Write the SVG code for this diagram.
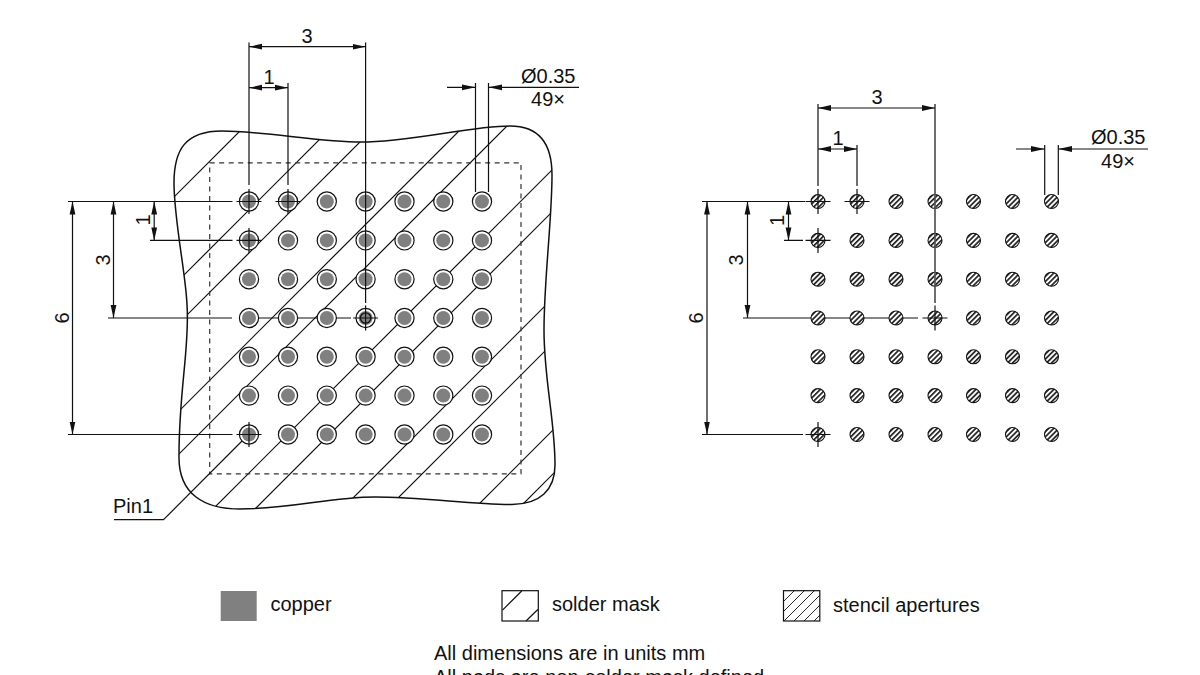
<svg xmlns="http://www.w3.org/2000/svg" width="1200" height="675" viewBox="0 0 1200 675">
<style>
text{font-family:"Liberation Sans",Arial,sans-serif;font-size:20px;fill:#111}
.m{text-anchor:middle}
.l{fill:none;stroke:#111;stroke-width:1.2}
.o{fill:none;stroke:#111;stroke-width:1.5}
.d{fill:none;stroke:#111;stroke-width:1.2;marker-start:url(#as);marker-end:url(#ae)}
.dn{fill:none;stroke:#111;stroke-width:1.2}
.ring{fill:#fff;stroke:#111;stroke-width:1.2}
.cu{fill:#808080}
.ap{fill:url(#ph);stroke:#111;stroke-width:1.1}
</style>
<defs>
<marker id="ae" markerUnits="userSpaceOnUse" markerWidth="14" markerHeight="8" refX="13" refY="4" orient="auto"><path d="M0 1.100L13 4L0 6.900Z" fill="#111"/></marker>
<marker id="as" markerUnits="userSpaceOnUse" markerWidth="14" markerHeight="8" refX="1" refY="4" orient="auto"><path d="M14 1.100L1 4L14 6.900Z" fill="#111"/></marker>
<pattern id="ph" width="3.6" height="3.6" patternUnits="userSpaceOnUse" patternTransform="rotate(-45)"><rect width="3.6" height="3.6" fill="#fff"/><rect width="3.6" height="1.7" fill="#222"/></pattern>
<clipPath id="mc"><path d="M174 183C174 150 185 131 222 131C262 131 320 142 361 142C410 142 470 126 510 126C540 126 552 145 552 175C552 220 544 280 544 330C544 380 555 420 555 465C555 490 540 504 512 504.5C470 504 420 497 375 497C330 497 290 509 240 509C205 509 178 495 179 455C179 390 190 345 187 305C186 275 174 220 174 183Z"/></clipPath>
<clipPath id="sc"><rect x="783.5" y="590.5" width="36.5" height="30.5"/></clipPath>
<g id="pad"><circle r="9.6" class="ring"/><circle r="7" class="cu"/></g>
<circle id="apt" r="7" class="ap"/>
<path id="cross" d="M-12.500 0H12.500M0-12.500V12.500" class="dn"/>
</defs>
<rect width="1200" height="675" fill="#fff"/>

<g id="solder-mask">
<g clip-path="url(#mc)"><path class="l" d="M251 120L-149 520M339 120L-61 520M382 120L-18 520M470 120L70 520M513 120L113 520M602 120L202 520M644 120L244 520M731 120L331 520M776 120L376 520M863 120L463 520M907 120L507 520"/></g>
<path class="o" d="M174 183C174 150 185 131 222 131C262 131 320 142 361 142C410 142 470 126 510 126C540 126 552 145 552 175C552 220 544 280 544 330C544 380 555 420 555 465C555 490 540 504 512 504.5C470 504 420 497 375 497C330 497 290 509 240 509C205 509 178 495 179 455C179 390 190 345 187 305C186 275 174 220 174 183Z"/>
<rect id="outline-dashed" x="209.700" y="162.800" width="311.300" height="311" fill="none" stroke="#333" stroke-width="1.2" stroke-dasharray="5 4.500"/>
</g>

<g id="connectors-under">
<path class="dn" d="M108 318H232M240 318H351M114 519.700H163.500L249 434"/>
<path class="dn" d="M743 318H918"/>
</g>

<g id="pads-left">
<use href="#pad" x="249" y="201.500"/><use href="#pad" x="288" y="201.500"/><use href="#pad" x="326.800" y="201.500"/><use href="#pad" x="365.600" y="201.500"/><use href="#pad" x="404.500" y="201.500"/><use href="#pad" x="443.300" y="201.500"/><use href="#pad" x="482" y="201.500"/>
<use href="#pad" x="249" y="240.400"/><use href="#pad" x="288" y="240.400"/><use href="#pad" x="326.800" y="240.400"/><use href="#pad" x="365.600" y="240.400"/><use href="#pad" x="404.500" y="240.400"/><use href="#pad" x="443.300" y="240.400"/><use href="#pad" x="482" y="240.400"/>
<use href="#pad" x="249" y="279.200"/><use href="#pad" x="288" y="279.200"/><use href="#pad" x="326.800" y="279.200"/><use href="#pad" x="365.600" y="279.200"/><use href="#pad" x="404.500" y="279.200"/><use href="#pad" x="443.300" y="279.200"/><use href="#pad" x="482" y="279.200"/>
<use href="#pad" x="249" y="318"/><use href="#pad" x="288" y="318"/><use href="#pad" x="326.800" y="318"/><use href="#pad" x="365.600" y="318"/><use href="#pad" x="404.500" y="318"/><use href="#pad" x="443.300" y="318"/><use href="#pad" x="482" y="318"/>
<use href="#pad" x="249" y="356.800"/><use href="#pad" x="288" y="356.800"/><use href="#pad" x="326.800" y="356.800"/><use href="#pad" x="365.600" y="356.800"/><use href="#pad" x="404.500" y="356.800"/><use href="#pad" x="443.300" y="356.800"/><use href="#pad" x="482" y="356.800"/>
<use href="#pad" x="249" y="395.600"/><use href="#pad" x="288" y="395.600"/><use href="#pad" x="326.800" y="395.600"/><use href="#pad" x="365.600" y="395.600"/><use href="#pad" x="404.500" y="395.600"/><use href="#pad" x="443.300" y="395.600"/><use href="#pad" x="482" y="395.600"/>
<use href="#pad" x="249" y="434.500"/><use href="#pad" x="288" y="434.500"/><use href="#pad" x="326.800" y="434.500"/><use href="#pad" x="365.600" y="434.500"/><use href="#pad" x="404.500" y="434.500"/><use href="#pad" x="443.300" y="434.500"/><use href="#pad" x="482" y="434.500"/>
</g>

<g id="apertures-right">
<use href="#apt" x="818" y="201.500"/><use href="#apt" x="857" y="201.500"/><use href="#apt" x="896" y="201.500"/><use href="#apt" x="935" y="201.500"/><use href="#apt" x="973.500" y="201.500"/><use href="#apt" x="1012.500" y="201.500"/><use href="#apt" x="1051.500" y="201.500"/>
<use href="#apt" x="818" y="240.400"/><use href="#apt" x="857" y="240.400"/><use href="#apt" x="896" y="240.400"/><use href="#apt" x="935" y="240.400"/><use href="#apt" x="973.500" y="240.400"/><use href="#apt" x="1012.500" y="240.400"/><use href="#apt" x="1051.500" y="240.400"/>
<use href="#apt" x="818" y="279.200"/><use href="#apt" x="857" y="279.200"/><use href="#apt" x="896" y="279.200"/><use href="#apt" x="935" y="279.200"/><use href="#apt" x="973.500" y="279.200"/><use href="#apt" x="1012.500" y="279.200"/><use href="#apt" x="1051.500" y="279.200"/>
<use href="#apt" x="818" y="318"/><use href="#apt" x="857" y="318"/><use href="#apt" x="896" y="318"/><use href="#apt" x="935" y="318"/><use href="#apt" x="973.500" y="318"/><use href="#apt" x="1012.500" y="318"/><use href="#apt" x="1051.500" y="318"/>
<use href="#apt" x="818" y="356.800"/><use href="#apt" x="857" y="356.800"/><use href="#apt" x="896" y="356.800"/><use href="#apt" x="935" y="356.800"/><use href="#apt" x="973.500" y="356.800"/><use href="#apt" x="1012.500" y="356.800"/><use href="#apt" x="1051.500" y="356.800"/>
<use href="#apt" x="818" y="395.600"/><use href="#apt" x="857" y="395.600"/><use href="#apt" x="896" y="395.600"/><use href="#apt" x="935" y="395.600"/><use href="#apt" x="973.500" y="395.600"/><use href="#apt" x="1012.500" y="395.600"/><use href="#apt" x="1051.500" y="395.600"/>
<use href="#apt" x="818" y="434.500"/><use href="#apt" x="857" y="434.500"/><use href="#apt" x="896" y="434.500"/><use href="#apt" x="935" y="434.500"/><use href="#apt" x="973.500" y="434.500"/><use href="#apt" x="1012.500" y="434.500"/><use href="#apt" x="1051.500" y="434.500"/>
</g>

<g id="connectors">
<path class="dn" d="M249 42.500V185M288 83V185M365.600 42.500V303M475.500 83V192M488.500 83V192M68 201.500H232.500M150 240.400H232.500M68 434.500H232.500"/>
<path class="d" d="M249 46.700H365.600"/>
<path class="d" d="M249 87.700H288"/>
<path class="d" d="M72.500 201.500V434.500"/>
<path class="d" d="M113.500 201.500V318"/>
<path class="d" d="M154.200 201.500V240.400"/>
<path class="dn" d="M447 87.300H475.500M488.500 87.300H579"/>
<path d="M475.500 87.300L462 84.400V90.200ZM488.500 87.300L502 84.400V90.200Z" fill="#111"/>
<use href="#cross" x="249" y="201.500"/><use href="#cross" x="288" y="201.500"/><use href="#cross" x="249" y="240.400"/><use href="#cross" x="365.600" y="318"/><use href="#cross" x="249" y="434.500"/>
<circle cx="365.600" cy="318" r="5.200" fill="none" stroke="#111" stroke-width="1.300"/>
<path class="dn" d="M818 104V186M857 145V186M1044.700 145V195M1058.300 145V195M702 201.500H805M784 240.400H803M702 434.500H803"/>
<path d="M935 104V303" fill="none" stroke="#555" stroke-width="1.700"/>
<path class="d" d="M818 108H935"/>
<path class="d" d="M818 149H857"/>
<path class="d" d="M707 201.500V434.500"/>
<path class="d" d="M747.500 201.500V318"/>
<path class="d" d="M788.500 201.500V240.400"/>
<path class="dn" d="M1016 149H1044.700M1058.300 149H1148"/>
<path d="M1044.700 149L1031 146.100V151.900ZM1058.300 149L1072 146.100V151.900Z" fill="#111"/>
<use href="#cross" x="818" y="201.500"/><use href="#cross" x="857" y="201.500"/><use href="#cross" x="818" y="240.400"/><use href="#cross" x="935" y="318"/><use href="#cross" x="818" y="434.500"/>
</g>

<g id="labels">
<text class="m" x="307" y="42.700">3</text>
<text class="m" x="269" y="84">1</text>
<text x="521" y="83">Ø0.35</text>
<text class="m" x="548" y="105.700">49×</text>
<text class="m" transform="translate(69 318) rotate(-90)">6</text>
<text class="m" transform="translate(110 260) rotate(-90)">3</text>
<text class="m" transform="translate(150 220) rotate(-90)">1</text>
<text x="113" y="513">Pin1</text>
<text class="m" x="877" y="104">3</text>
<text class="m" x="838" y="145">1</text>
<text x="1091" y="144">Ø0.35</text>
<text class="m" x="1118" y="167.500">49×</text>
<text class="m" transform="translate(703 318) rotate(-90)">6</text>
<text class="m" transform="translate(743 260) rotate(-90)">3</text>
<text class="m" transform="translate(784 220.500) rotate(-90)">1</text>
</g>

<g id="legend-copper">
<rect x="220.700" y="591" width="36" height="30" class="cu"/>
<text x="270.500" y="611">copper</text>
</g>
<g id="legend-solder-mask">
<rect x="502" y="590.700" width="36.300" height="30.300" fill="none" stroke="#111" stroke-width="1.200"/>
<path class="dn" d="M521.700 591L502.500 610.200M537.800 609.500L526 621"/>
<text x="552" y="611">solder mask</text>
</g>
<g id="legend-stencil">
<rect x="783.500" y="590.700" width="36.300" height="30.300" fill="none" stroke="#111" stroke-width="1.200"/>
<g clip-path="url(#sc)"><path fill="none" stroke="#111" stroke-width="0.900" d="M795 590L783 602M805 590L783 612M815 590L783 622M825 590L793 622M835 590L803 622M845 590L813 622"/></g>
<text x="833" y="612">stencil apertures</text>
</g>
<g id="notes">
<text x="434" y="660">All dimensions are in units mm</text>
<text x="434" y="684">All pads are non-solder mask defined</text>
</g>
</svg>
